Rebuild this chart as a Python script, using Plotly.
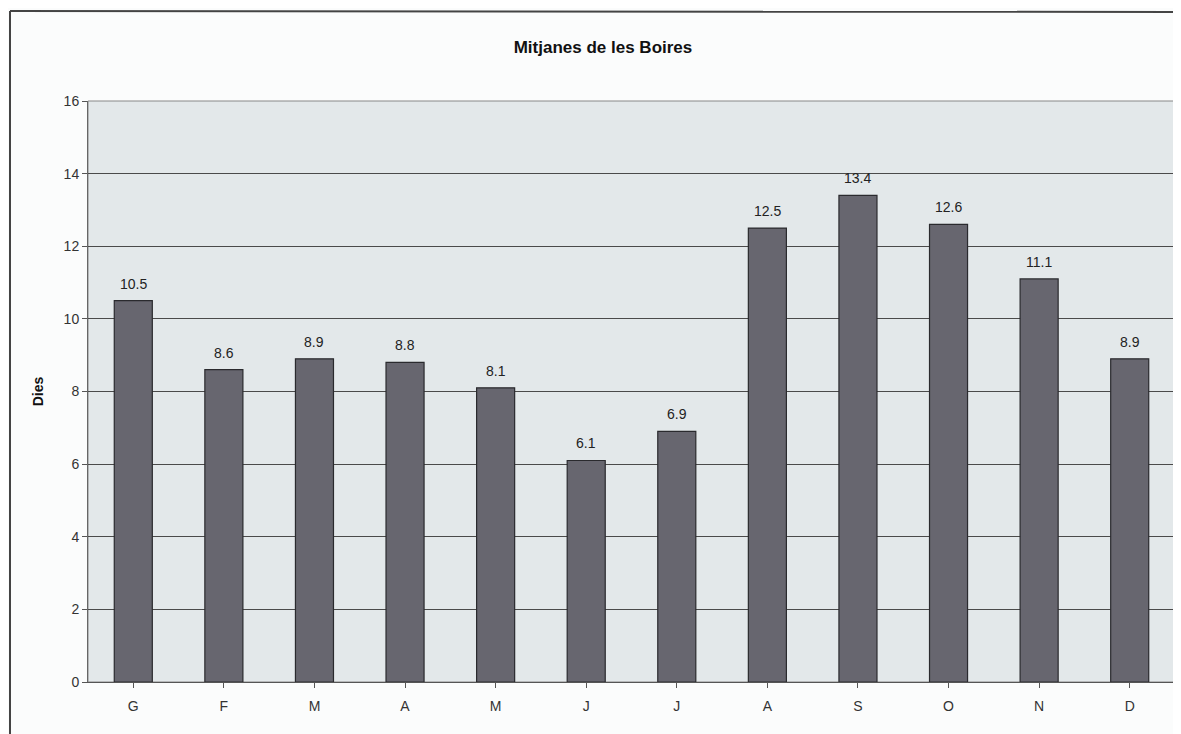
import plotly.graph_objects as go

months = ["G", "F", "M", "A", "M", "J", "J", "A", "S", "O", "N", "D"]
values = [10.5, 8.6, 8.9, 8.8, 8.1, 6.1, 6.9, 12.5, 13.4, 12.6, 11.1, 8.9]
labels = ["10.5", "8.6", "8.9", "8.8", "8.1", "6.1", "6.9", "12.5", "13.4", "12.6", "11.1", "8.9"]
positions = list(range(len(months)))

# page has an 8px body margin, so figure is 1173x726
W, H = 1173, 726
ml, mr, mt, mb = 80, 6, 93, 52
pw = W - ml - mr
ph = H - mt - mb

def px_x(p):
    return (p - ml) / pw

def px_y(p):
    return (H - mb - p) / ph

FONT = "Liberation Sans, Arial"

fig = go.Figure()
fig.add_trace(go.Bar(
    x=positions, y=values, width=0.42,
    marker=dict(color="#67666f", line=dict(color="#2a2a2e", width=1.2)),
))

for xv, yv, lab in zip(positions, values, labels):
    fig.add_annotation(x=xv, y=yv, text=lab, showarrow=False,
                       yanchor="middle", yshift=17,
                       font=dict(family=FONT, size=14, color="#222"))

fig.update_layout(
    width=W, height=H,
    margin=dict(l=ml, r=mr, t=mt, b=mb),
    paper_bgcolor="#fbfcfc",
    plot_bgcolor="#e3e8ea",
    showlegend=False,
    title=dict(text="<b>Mitjanes de les Boires</b>", x=595 / W, xanchor="center",
               y=1 - 39 / H, yanchor="middle",
               font=dict(family=FONT, size=17, color="#111")),
)
fig.update_xaxes(
    tickmode="array", tickvals=positions, ticktext=months,
    range=[-0.5, 11.5], tickson="boundaries",
    ticks="outside", ticklen=5, tickcolor="#555",
    ticklabelstandoff=6,
    showgrid=False, showline=True, linecolor="#555", linewidth=1.2,
    tickfont=dict(family=FONT, size=14, color="#333"),
)
fig.update_yaxes(
    range=[0, 16], dtick=2, tick0=0,
    ticks="outside", ticklen=5, tickcolor="#555",
    showgrid=True, gridcolor="#4a4a4a", gridwidth=1,
    showline=True, linecolor="#666", linewidth=1,
    tickfont=dict(family=FONT, size=14, color="#333"),
    title=dict(text="<b>Dies</b>", standoff=16,
               font=dict(family=FONT, size=14, color="#111")),
    zeroline=False,
)
# top and right border of plot area
fig.add_shape(type="rect", xref="paper", yref="paper", x0=0, x1=1, y0=0, y1=1,
              line=dict(color="#888", width=1), layer="below")
# outer chart frame (top and left edges)
fig.add_shape(type="line", xref="paper", yref="paper",
              x0=px_x(2), x1=px_x(1173), y0=px_y(3), y1=px_y(4),
              line=dict(color="#444", width=2))
fig.add_shape(type="line", xref="paper", yref="paper",
              x0=px_x(2), x1=px_x(2), y0=px_y(3), y1=px_y(726),
              line=dict(color="#444", width=2))

fig.write_html("out.html")
